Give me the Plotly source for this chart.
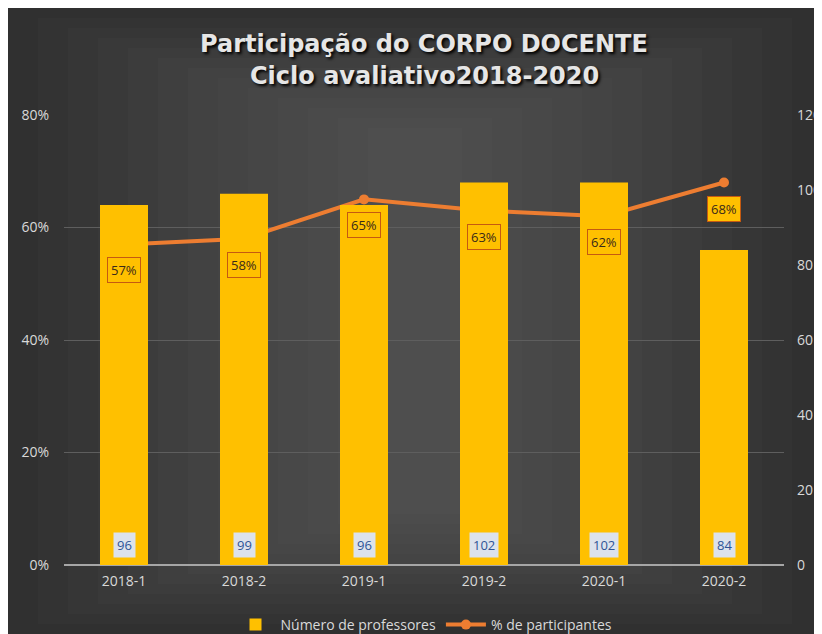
import plotly.graph_objects as go

categories = ["2018-1", "2018-2", "2019-1", "2019-2", "2020-1", "2020-2"]
professores = [96, 99, 96, 102, 102, 84]
participantes = [0.57, 0.58, 0.65, 0.63, 0.62, 0.68]
title_lines = ["Participação do CORPO DOCENTE", "Ciclo avaliativo2018-2020"]

# the page body has an 8px margin, so the figure is drawn at (8, 8)
W, H = 814, 626
L, R, T, B = 56, 38, 107, 69
pw, ph = W - L - R, H - T - B

def px(x):
    return (x - L) / pw

def py(y):
    return (H - B - y) / ph

BAR = "#FFC000"
LINE = "#ED7D31"
FONT = "Open Sans"

fig = go.Figure()
fig.add_trace(go.Bar(
    x=categories, y=professores, name="Número de professores", yaxis="y2",
    marker=dict(color=BAR, line=dict(width=0)), width=0.4,
))
fig.add_trace(go.Scatter(
    x=categories, y=participantes, name="% de participantes", yaxis="y",
    mode="lines+markers", line=dict(color=LINE, width=4),
    marker=dict(color=LINE, size=10),
))

annotations = []
for c, v in zip(categories, professores):
    annotations.append(dict(
        x=c, y=0, xref="x", yref="y2", yanchor="bottom", yshift=7,
        text=str(v), showarrow=False, bgcolor="#DCE2EC", borderpad=3,
        font=dict(family=FONT, size=13, color="#2F5597"),
    ))
for c, v in zip(categories, participantes):
    annotations.append(dict(
        x=c, y=v, xref="x", yref="y", yshift=-26,
        text=f"{round(v*100)}%", showarrow=False, bgcolor=BAR,
        bordercolor="#C55A11", borderwidth=1, borderpad=3,
        font=dict(family=FONT, size=13, color="#3A2A1A"),
    ))
for t, ypx in zip(title_lines, [36, 68]):
    annotations.append(dict(
        x=0.5, y=py(ypx), xref="paper", yref="paper", xanchor="center", yanchor="middle",
        text=t, showarrow=False,
        font=dict(family="DejaVu Sans", size=24, color="#E6E6E6", weight="bold",
                  shadow="2px 2px 3px #000000"),
    ))

shapes = []
for i in range(1, 13):
    mx = 30 * i
    my = 10 * i
    shapes.append(dict(type="rect", xref="paper", yref="paper", layer="below",
                       x0=px(mx), x1=px(W - mx), y0=py(H - my), y1=py(my),
                       fillcolor="rgba(255,255,255,0.017)", line=dict(width=0)))

fig.update_layout(
    width=W, height=H,
    margin=dict(l=L, r=R, t=T, b=B, autoexpand=False),
    paper_bgcolor="#303030", plot_bgcolor="rgba(0,0,0,0)",
    xaxis=dict(
        type="category", showgrid=False, showline=False, zeroline=False,
        tickfont=dict(family=FONT, size=14, color="#D9D9D9"),
        ticks="", ticklabelstandoff=6, automargin=False,
    ),
    yaxis=dict(
        range=[0, 0.8], dtick=0.2, tickformat=".0%", showgrid=True,
        gridcolor="#5E5E5E", gridwidth=1, zeroline=True, zerolinecolor="#A6A6A6",
        zerolinewidth=1.5, showline=False, automargin=False,
        tickfont=dict(family=FONT, size=14, color="#D9D9D9"),
        ticklabelstandoff=14,
    ),
    yaxis2=dict(
        range=[0, 120], dtick=20, overlaying="y", side="right", showgrid=False,
        zeroline=False, showline=False, automargin=False,
        tickfont=dict(family=FONT, size=14, color="#D9D9D9"),
        ticklabelstandoff=12,
    ),
    legend=dict(
        orientation="h", x=0.5, xanchor="center", y=py(617), yanchor="middle",
        font=dict(family=FONT, size=14, color="#D9D9D9"),
        bgcolor="rgba(0,0,0,0)", traceorder="normal", itemwidth=40,
    ),
    annotations=annotations,
    shapes=shapes,
)

fig.write_html("out.html")
